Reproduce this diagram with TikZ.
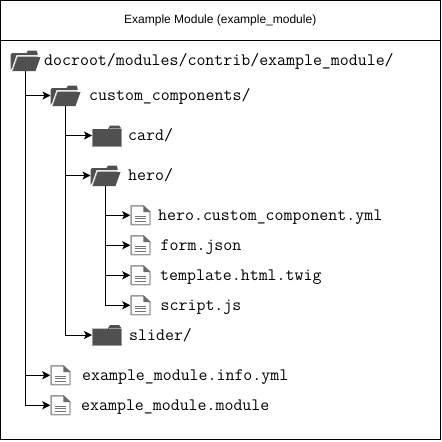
\documentclass[tikz,border=0pt]{standalone}
\usepackage{fontspec}
\setmainfont{Liberation Sans}
\usetikzlibrary{arrows.meta}
\definecolor{icondark}{HTML}{505050}
\definecolor{iconedge}{HTML}{9A9A9A}
\tikzset{
  x=1pt, y=-1pt,
  branch/.style={draw, line width=1pt, -{Stealth[length=8pt,width=8pt,inset=2pt]}},
  namelabel/.style={anchor=base west, inner sep=0pt, font=\fontsize{17.4}{18}\ttfamily},
  iconbox/.style={inner sep=0pt, outer sep=0pt},
  openfolder/.pic={
    \begin{scope}[shift={(-15,-10.5)}]
      \fill[icondark] (0,20) -- (0,5) -- (1.5,3) -- (16,3) -- (17.5,0.5) -- (26,0.5) -- (27,3) -- (27,5) -- (6,5) -- (1.5,18) -- cycle;
      \fill[icondark] (7,7) -- (30,7) -- (25,21) -- (2,21) -- cycle;
      \draw[iconedge, line width=.6pt] (7,6.6) -- (27,6.6) (7,6.6) -- (2,21);
    \end{scope}
    \node[iconbox, minimum width=30pt, minimum height=21pt] (-icon) {};
  },
  closedfolder/.pic={
    \begin{scope}[shift={(-14.5,-10.5)}]
      \fill[icondark] (0,21) -- (0,4) -- (16,4) -- (18,0.5) -- (27,0.5) -- (29,3) -- (29,21) -- cycle;
      \draw[iconedge, line width=.6pt] (16.5,3.5) -- (29,3.5);
      \draw[iconedge, line width=.5pt] (0,21) -- (0,4) (29,4) -- (29,21) -- (0,21);
    \end{scope}
    \node[iconbox, minimum width=29pt, minimum height=21pt] (-icon) {};
  },
  fileicon/.pic={
    \begin{scope}[shift={(-10.25,-10.25)}]
      \draw[iconedge, line width=1.4pt, fill=white, line join=round] (.8,.8) -- (13,.8) -- (19.7,7) -- (19.7,19.7) -- (.8,19.7) -- cycle;
      \fill[icondark!85] (13,.3) -- (20.3,7) -- (13,7) -- cycle;
      \draw[icondark!80, line width=.7pt] (5,11) -- (15.5,11) (5,13.5) -- (15.5,13.5) (5,16) -- (15.5,16);
    \end{scope}
    \node[iconbox, minimum width=20.5pt, minimum height=20.5pt] (-icon) {};
  }
}
\begin{document}
\begin{tikzpicture}
  \useasboundingbox (0,0) rectangle (442,442);
  \node[draw, line width=1pt, minimum width=439.5pt, minimum height=40pt, inner sep=0pt, font=\fontsize{12}{14}\selectfont] (title) at (220.25,20.5) {Example Module (example\_module)};
  \node[draw, line width=1pt, minimum width=439.5pt, minimum height=399pt, inner sep=0pt] (frame) at (220.25,240) {};

  % folders
  \pic (rootdir) at (25.5,60.5) {openfolder};
  \pic (componentsdir) at (65.5,95.5) {openfolder};
  \pic (carddir) at (106.5,135.5) {closedfolder};
  \pic (herodir) at (105.5,175.5) {openfolder};
  \pic (sliderdir) at (106.5,335) {closedfolder};

  % files
  \pic (herofile) at (140.5,215.25) {fileicon};
  \pic (formfile) at (140.5,245.25) {fileicon};
  \pic (twigfile) at (140.5,275.25) {fileicon};
  \pic (scriptfile) at (140.5,305.25) {fileicon};
  \pic (infofile) at (60.5,375.25) {fileicon};
  \pic (modulefile) at (60.5,405.25) {fileicon};

  % names
  \node[namelabel] (rootname) at (44,65) {docroot/modules/contrib/example\_module/};
  \node[namelabel] (componentsname) at (89,100) {custom\_components/};
  \node[namelabel] (cardname) at (128,140) {card/};
  \node[namelabel] (heroname) at (128,180) {hero/};
  \node[namelabel] (herofilename) at (158,220) {hero.custom\_component.yml};
  \node[namelabel] (formfilename) at (160.5,250) {form.json};
  \node[namelabel] (twigfilename) at (160,280) {template.html.twig};
  \node[namelabel] (scriptfilename) at (160.5,310) {script.js};
  \node[namelabel] (slidername) at (129,340) {slider/};
  \node[namelabel] (infofilename) at (82,380) {example\_module.info.yml};
  \node[namelabel] (modulefilename) at (81,410) {example\_module.module};

  % tree
  \draw[branch] (rootdir-icon.south) |- (componentsdir-icon.west);
  \draw[branch] (rootdir-icon.south) |- (infofile-icon.west);
  \draw[branch] (rootdir-icon.south) |- (modulefile-icon.west);
  \draw[branch] (componentsdir-icon.south) |- (carddir-icon.west);
  \draw[branch] (componentsdir-icon.south) |- (herodir-icon.west);
  \draw[branch] (componentsdir-icon.south) |- (sliderdir-icon.west);
  \draw[branch] (herodir-icon.south) |- (herofile-icon.west);
  \draw[branch] (herodir-icon.south) |- (formfile-icon.west);
  \draw[branch] (herodir-icon.south) |- (twigfile-icon.west);
  \draw[branch] (herodir-icon.south) |- (scriptfile-icon.west);
\end{tikzpicture}
\end{document}
